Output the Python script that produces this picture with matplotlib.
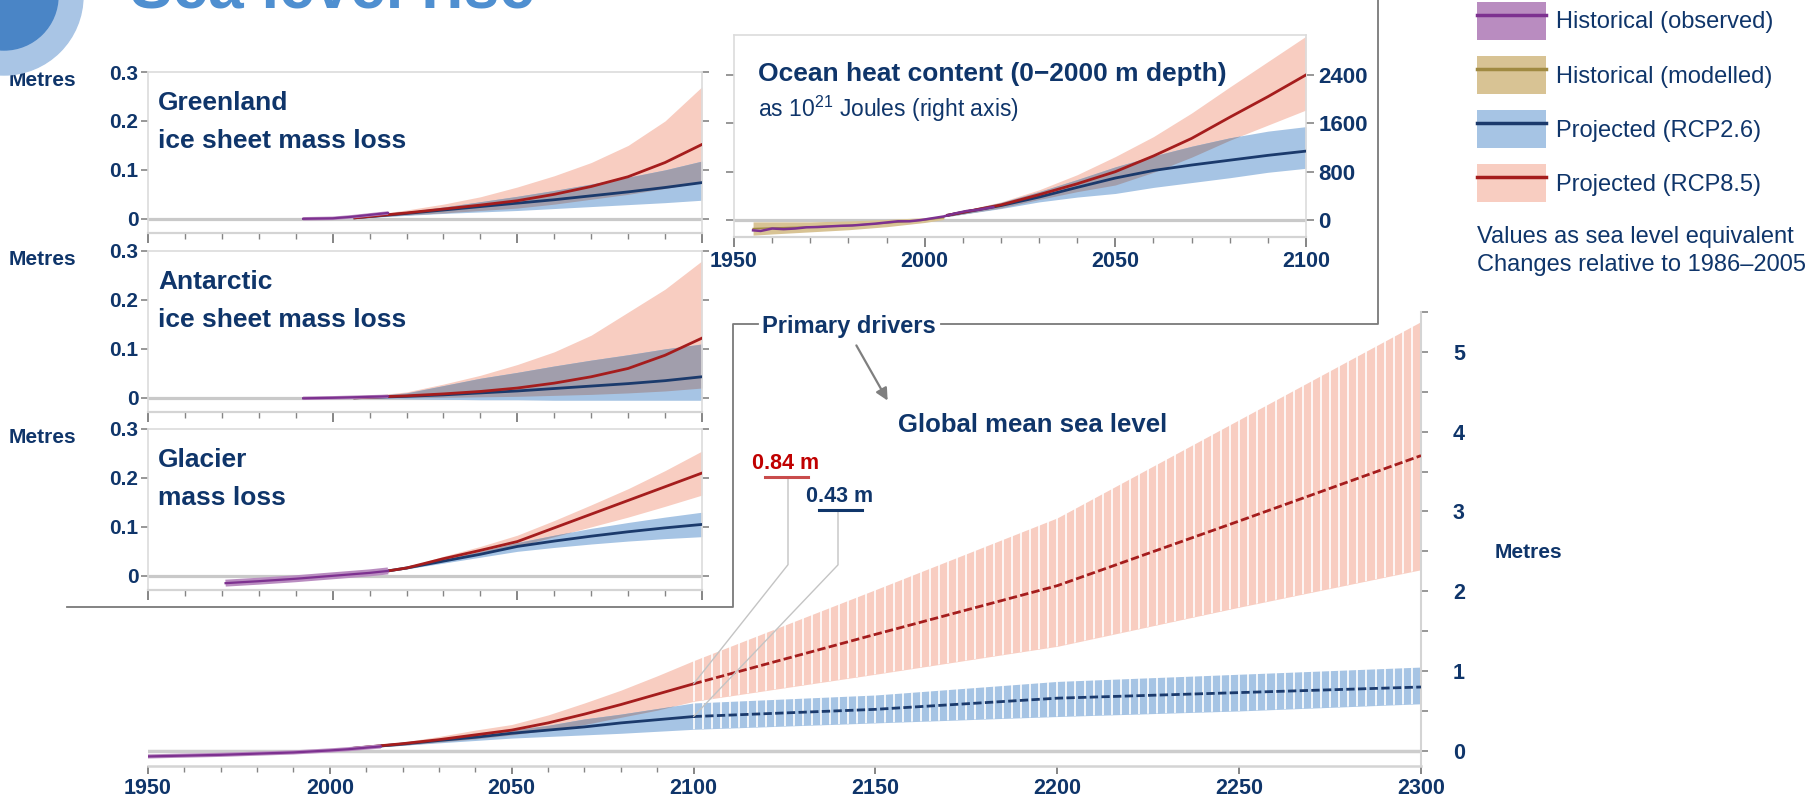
import numpy as np
import matplotlib
matplotlib.use("Agg")
import matplotlib.pyplot as plt
from matplotlib.patches import Patch, Circle
from matplotlib.lines import Line2D
from matplotlib.ticker import MultipleLocator, FixedLocator, FuncFormatter

plt.rcParams['font.family'] = ['Liberation Sans', 'DejaVu Sans']
plt.rcParams['font.weight'] = 'bold'
plt.rcParams['mathtext.default'] = 'regular'

W, H = 1810, 797

NAVY = '#0f356a'
RED_L = '#a51d1d'
RED_B = '#f8cdc1'
BLUE_L = '#1b3a6c'
BLUE_B = '#a6c4e4'
OVER = '#a19eac'
PURPLE = '#7d3190'
PURPLE_B = '#b98cc0'
TAN_L = '#a08a42'
TAN_B = '#d8c394'
LIGHT = '#d4d4d4'
TICK = '#858585'

# ---------------- data (metres sea level equivalent) ----------------
proj_years = [2006, 2020, 2030, 2040, 2050, 2060, 2070, 2080, 2090, 2100]

# Greenland ice sheet
grn_obs_years = [1992, 2000, 2005, 2010, 2015]
grn_obs = [0.0, 0.001, 0.004, 0.008, 0.012]
grn_85_mid = [0.002, 0.012, 0.02, 0.028, 0.037, 0.05, 0.066, 0.086, 0.115, 0.152]
grn_85_hi = [0.003, 0.018, 0.03, 0.045, 0.065, 0.088, 0.115, 0.15, 0.2, 0.27]
grn_85_lo = [0.001, 0.008, 0.012, 0.017, 0.022, 0.03, 0.04, 0.05, 0.062, 0.075]
grn_26_mid = [0.002, 0.011, 0.018, 0.025, 0.032, 0.039, 0.047, 0.055, 0.064, 0.074]
grn_26_hi = [0.003, 0.014, 0.024, 0.035, 0.046, 0.058, 0.071, 0.085, 0.1, 0.118]
grn_26_lo = [0.001, 0.007, 0.011, 0.014, 0.017, 0.021, 0.025, 0.029, 0.033, 0.038]

# Antarctic ice sheet
ant_obs_years = [1992, 2000, 2005, 2010, 2015]
ant_obs = [-0.001, 0.0, 0.001, 0.002, 0.003]
ant_85_mid = [0.0, 0.004, 0.008, 0.013, 0.02, 0.03, 0.043, 0.06, 0.087, 0.122]
ant_85_hi = [0.001, 0.012, 0.028, 0.046, 0.068, 0.094, 0.128, 0.175, 0.222, 0.28]
ant_85_lo = [0.0, 0.0, 0.001, 0.002, 0.003, 0.005, 0.007, 0.01, 0.014, 0.02]
ant_26_mid = [0.0, 0.003, 0.006, 0.01, 0.014, 0.019, 0.024, 0.029, 0.035, 0.043]
ant_26_hi = [0.001, 0.01, 0.025, 0.04, 0.052, 0.065, 0.077, 0.088, 0.1, 0.11]
ant_26_lo = [0.0, -0.002, -0.003, -0.004, -0.004, -0.005, -0.005, -0.005, -0.005, -0.005]

# Glaciers
gla_obs_years = [1971, 1980, 1990, 2000, 2010, 2015]
gla_obs = [-0.015, -0.011, -0.006, 0.0, 0.006, 0.01]
gla_years = [2015, 2020, 2030, 2040, 2050, 2060, 2070, 2080, 2090, 2100]
gla_85_mid = [0.01, 0.016, 0.035, 0.052, 0.07, 0.098, 0.126, 0.154, 0.182, 0.21]
gla_85_hi = [0.011, 0.018, 0.04, 0.06, 0.083, 0.113, 0.145, 0.178, 0.215, 0.255]
gla_85_lo = [0.009, 0.014, 0.03, 0.045, 0.06, 0.08, 0.1, 0.12, 0.142, 0.165]
gla_26_mid = [0.01, 0.016, 0.03, 0.044, 0.06, 0.071, 0.081, 0.09, 0.098, 0.105]
gla_26_hi = [0.011, 0.018, 0.034, 0.05, 0.068, 0.083, 0.097, 0.109, 0.12, 0.13]
gla_26_lo = [0.009, 0.014, 0.026, 0.038, 0.05, 0.058, 0.065, 0.071, 0.076, 0.08]

# Ocean heat content (10^21 J)
ohc_obs_years = [1955, 1957, 1960, 1963, 1966, 1969, 1972, 1975, 1978, 1981, 1984,
                 1987, 1990, 1993, 1996, 1999, 2002, 2005, 2008, 2011, 2014, 2018]
ohc_obs = [-170, -180, -140, -150, -140, -120, -115, -105, -95, -90, -75,
           -60, -40, -20, -20, 0, 30, 60, 110, 150, 170, 215]
ohc_mod_years = [1955, 1960, 1970, 1980, 1990, 2000, 2005]
ohc_mod_lo = [-250, -230, -195, -160, -110, -40, 10]
ohc_mod_hi = [-30, -30, -30, -15, 10, 40, 70]
ohc_85_mid = [80, 250, 420, 600, 800, 1060, 1350, 1700, 2040, 2400]
ohc_85_hi = [100, 300, 500, 750, 1050, 1380, 1770, 2200, 2620, 3040]
ohc_85_lo = [60, 200, 340, 470, 580, 790, 1040, 1320, 1570, 1820]
ohc_26_mid = [80, 240, 380, 540, 695, 820, 910, 990, 1070, 1140]
ohc_26_hi = [100, 290, 470, 670, 880, 1060, 1220, 1360, 1470, 1545]
ohc_26_lo = [60, 190, 300, 380, 440, 540, 620, 700, 790, 856]

# Global mean sea level
gmsl_obs_years = [1950, 1960, 1970, 1980, 1990, 2000, 2005, 2010, 2014]
gmsl_obs = [-0.07, -0.06, -0.05, -0.035, -0.02, 0.005, 0.02, 0.04, 0.055]
gmsl_years = [2006, 2020, 2030, 2040, 2050, 2060, 2070, 2080, 2090, 2100,
              2150, 2200, 2250, 2300]
gmsl_85_mid = [0.03, 0.09, 0.14, 0.2, 0.26, 0.35, 0.46, 0.58, 0.71, 0.84, 1.46, 2.07, 2.88, 3.7]
gmsl_85_hi = [0.035, 0.11, 0.18, 0.26, 0.33, 0.45, 0.6, 0.76, 0.94, 1.13, 2.02, 2.92, 4.15, 5.38]
gmsl_85_lo = [0.025, 0.07, 0.11, 0.15, 0.2, 0.26, 0.33, 0.42, 0.51, 0.62, 0.96, 1.31, 1.8, 2.27]
gmsl_26_mid = [0.03, 0.085, 0.13, 0.17, 0.22, 0.26, 0.3, 0.35, 0.39, 0.43, 0.52, 0.66, 0.73, 0.8]
gmsl_26_hi = [0.035, 0.1, 0.15, 0.2, 0.26, 0.32, 0.4, 0.46, 0.53, 0.6, 0.7, 0.87, 0.96, 1.05]
gmsl_26_lo = [0.025, 0.07, 0.1, 0.13, 0.16, 0.18, 0.2, 0.22, 0.245, 0.27, 0.35, 0.43, 0.5, 0.59]

legend_labels = ['Historical (observed)', 'Historical (modelled)',
                 'Projected (RCP2.6)', 'Projected (RCP8.5)']


def rect(l, t, r, b):
    return [l / W, 1 - b / H, (r - l) / W, (b - t) / H]


def bands(ax, x, lo85, hi85, lo26, hi26):
    x = np.asarray(x, float)
    lo85, hi85 = np.asarray(lo85), np.asarray(hi85)
    lo26, hi26 = np.asarray(lo26), np.asarray(hi26)
    p85 = ax.fill_between(x, lo85, hi85, color=RED_B, lw=0, zorder=2)
    p26 = ax.fill_between(x, lo26, hi26, color=BLUE_B, lw=0, zorder=2.1)
    # where both ranges overlap the colours mix to a grey-violet
    top = np.minimum(hi85, hi26)
    bot = np.maximum(lo85, lo26)
    ax.fill_between(x, bot, top, where=top > bot, interpolate=True,
                    color=OVER, lw=0, zorder=2.2)
    return p85, p26


def obs_line(ax, x, y, thick=3.5):
    ax.plot(x, y, color=PURPLE_B, lw=thick, solid_capstyle='butt', zorder=5)
    ax.plot(x, y, color=PURPLE, lw=1.6, zorder=5.1)


def small_panel(ax, xlo, xhi):
    ax.set_facecolor('none')
    ax.set_xlim(xlo, xhi)
    for s in ['top', 'right', 'left']:
        ax.spines[s].set_color('#dcdcdc')
        ax.spines[s].set_linewidth(1.2)
    ax.spines['bottom'].set_color(LIGHT)
    ax.spines['bottom'].set_linewidth(1.6)
    ax.axhline(0, color='#c9c9c9', lw=2.3, zorder=1)
    ax.xaxis.set_major_locator(MultipleLocator(50))
    ax.xaxis.set_minor_locator(MultipleLocator(10))
    ax.tick_params(axis='x', which='major', length=7, width=1.4, color=TICK)
    ax.tick_params(axis='x', which='minor', length=4.5, width=1.0, color=TICK)


fig = plt.figure(figsize=(W / 100, H / 100), dpi=100)

# ---------------- three small panels ----------------
panels = [
    (rect(148, 72, 702, 233), 'Greenland', 'ice sheet mass loss', grn_obs_years, grn_obs, 2.5,
     proj_years, grn_85_mid, grn_85_lo, grn_85_hi, grn_26_mid, grn_26_lo, grn_26_hi),
    (rect(148, 251, 702, 412), 'Antarctic', 'ice sheet mass loss', ant_obs_years, ant_obs, 2.5,
     proj_years, ant_85_mid, ant_85_lo, ant_85_hi, ant_26_mid, ant_26_lo, ant_26_hi),
    (rect(148, 429, 702, 590), 'Glacier', 'mass loss', gla_obs_years, gla_obs, 5,
     gla_years, gla_85_mid, gla_85_lo, gla_85_hi, gla_26_mid, gla_26_lo, gla_26_hi),
]
for (r, t1, t2, ox, oy, othick, px, m85, l85, h85, m26, l26, h26) in panels:
    ax = fig.add_axes(r)
    small_panel(ax, 1950, 2100)
    ax.set_ylim(-0.029, 0.3)
    bands(ax, px, l85, h85, l26, h26)
    ax.plot(px, m26, color=BLUE_L, lw=2, zorder=4)
    ax.plot(px, m85, color=RED_L, lw=2, zorder=4)
    obs_line(ax, ox, oy, othick)
    ax.yaxis.set_major_locator(FixedLocator([0, 0.1, 0.2, 0.3]))
    ax.yaxis.set_major_formatter(FuncFormatter(lambda v, _: '0' if abs(v) < 1e-9 else f'{v:.1f}'))
    ax.tick_params(axis='y', left=True, right=True, length=5, width=1.2, color=TICK,
                   labelsize=15, labelcolor=NAVY, pad=2)
    ax.tick_params(axis='x', labelbottom=False)
    ax.text(0.018, 1 - 38 / 161, t1, transform=ax.transAxes, fontsize=19, color=NAVY, va='baseline')
    ax.text(0.018, 1 - 76 / 161, t2, transform=ax.transAxes, fontsize=19, color=NAVY, va='baseline')
    ax.text(-0.251, 0.95, 'Metres', transform=ax.transAxes, fontsize=15, color=NAVY,
            va='center', ha='left')

# ---------------- ocean heat content ----------------
ax = fig.add_axes(rect(734, 35, 1306, 237))
small_panel(ax, 1950, 2100)
ax.set_ylim(-280, 3060)
ax.fill_between(ohc_mod_years, ohc_mod_lo, ohc_mod_hi, color=TAN_B, lw=0, zorder=1.5)
ax.plot(ohc_mod_years, (np.array(ohc_mod_lo) + np.array(ohc_mod_hi)) / 2, color=TAN_L, lw=1, zorder=1.6)
bands(ax, proj_years, ohc_85_lo, ohc_85_hi, ohc_26_lo, ohc_26_hi)
ax.plot(proj_years, ohc_26_mid, color=BLUE_L, lw=2, zorder=4)
ax.plot(proj_years, ohc_85_mid, color=RED_L, lw=2, zorder=4)
ax.plot(ohc_obs_years, ohc_obs, color=PURPLE, lw=1.8, zorder=5)
ax.yaxis.set_major_locator(FixedLocator([0, 800, 1600, 2400]))
ax.tick_params(axis='y', left=True, right=True, labelleft=False, labelright=True,
               length=6, width=1.2, color=TICK, labelsize=16, labelcolor=NAVY, pad=3)
ax.tick_params(axis='x', labelsize=15.5, labelcolor=NAVY, pad=3)
ax.text(0.042, 1 - 46 / 202, 'Ocean heat content (0\u22122000 m depth)', transform=ax.transAxes,
        fontsize=19, color=NAVY, va='baseline')
ax.text(0.042, 1 - 82 / 202, r'as 10$^{21}$ Joules (right axis)', transform=ax.transAxes,
        fontsize=16.5, color=NAVY, va='baseline', fontweight='normal')

# ---------------- global mean sea level ----------------
ax = fig.add_axes(rect(148, 312, 1421, 766))
ax.set_facecolor('none')
ax.set_xlim(1950, 2300)
ax.set_ylim(-0.19, 5.5)
yrs = np.array(gmsl_years, float)
p85, p26 = bands(ax, yrs, gmsl_85_lo, gmsl_85_hi, gmsl_26_lo, gmsl_26_hi)
# striped look of the post-2100 ranges, clipped to each band
stripe_x = np.arange(2100, 2300, 2.5)
for poly in (p85, p26):
    lc = ax.vlines(stripe_x, -0.19, 5.5, colors='white', lw=1.2, zorder=3.5)
    lc.set_clip_path(poly.get_paths()[0], ax.transData)
pre = yrs <= 2100
post = yrs >= 2100
for mid, col in [(gmsl_26_mid, BLUE_L), (gmsl_85_mid, RED_L)]:
    mid = np.asarray(mid)
    ax.plot(yrs[pre], mid[pre], color=col, lw=2, zorder=4)
    ax.plot(yrs[post], mid[post], color=col, lw=2, ls=(0, (3, 1.2)), zorder=4)
obs_line(ax, gmsl_obs_years, gmsl_obs, 3.0)
ax.axhline(0, color='#cdcdcd', lw=2.5, zorder=1)
for s in ['top', 'left']:
    ax.spines[s].set_visible(False)
ax.spines['right'].set_color(LIGHT)
ax.spines['right'].set_linewidth(1.5)
ax.spines['bottom'].set_color(LIGHT)
ax.spines['bottom'].set_linewidth(1.8)
ax.xaxis.set_major_locator(MultipleLocator(50))
ax.xaxis.set_minor_locator(FixedLocator(list(range(1960, 2100, 10))))
ax.yaxis.tick_right()
ax.yaxis.set_major_locator(MultipleLocator(1))
ax.yaxis.set_minor_locator(MultipleLocator(0.5))
ax.tick_params(axis='x', which='major', length=6, width=1.4, color=TICK,
               labelsize=15.5, labelcolor=NAVY, pad=3)
ax.tick_params(axis='x', which='minor', length=4, width=1.0, color=TICK)
ax.tick_params(axis='y', which='both', length=5, width=1.2, color=TICK,
               labelsize=15.5, labelcolor=NAVY, pad=18)
main = ax

# leader lines for the 2100 values
i2100 = gmsl_years.index(2100)
for val, bend_x, top_y, ang in [(gmsl_85_mid[i2100], 788, 477, 51.6),
                                (gmsl_26_mid[i2100], 838, 510, 46.4)]:
    main.annotate('', xy=(2100, val), xycoords='data', xytext=(bend_x, H - top_y),
                  textcoords='figure pixels',
                  arrowprops=dict(arrowstyle='-', color='#c4c4c4', lw=1.0, shrinkA=0, shrinkB=0,
                                  connectionstyle=f'angle,angleA=-90,angleB={ang},rad=0'),
                  zorder=6)

# ---------------- overlay: frame lines, notes, title ----------------
ov = fig.add_axes([0, 0, 1, 1])
ov.set_xlim(0, W)
ov.set_ylim(H, 0)
ov.axis('off')
ov.patch.set_alpha(0)

ov.add_patch(Circle((4, -4), 79, color='#a9c5e5', zorder=1))
ov.add_patch(Circle((4, -4), 54, color='#4a85c6', zorder=2))
ov.text(130, 7, 'Sea level rise', fontsize=46, color='#4f8fd0', va='baseline')

frame = '#7a7a7a'
ov.plot([67, 733, 733, 758], [607, 607, 324, 324], color=frame, lw=1.3)
ov.plot([941, 1378, 1378], [324, 324, 0], color=frame, lw=1.3)
ov.text(849, 333, 'Primary drivers', fontsize=17, color=NAVY, ha='center', va='baseline')
ov.annotate('', xy=(889, 403), xytext=(855, 343),
            arrowprops=dict(arrowstyle='-|>', color='#7f7f7f', lw=1.6, mutation_scale=18))
ov.text(898, 432, 'Global mean sea level', fontsize=18.5, color=NAVY, va='baseline')

ov.text(786, 469, f'{gmsl_85_mid[i2100]:.2f} m', fontsize=15.5, color='#c00000', ha='center', va='baseline')
ov.plot([765, 808], [477, 477], color='#c94c4c', lw=2.2)
ov.text(840, 502, f'{gmsl_26_mid[i2100]:.2f} m', fontsize=15.5, color=NAVY, ha='center', va='baseline')
ov.plot([819, 862], [510, 510], color=NAVY, lw=2.2)

ov.text(1528, 552, 'Metres', fontsize=15, color=NAVY, ha='center', va='center')
ov.text(1477, 237, 'Values as sea level equivalent', fontsize=17, color=NAVY,
        va='center', fontweight='normal')
ov.text(1477, 265, 'Changes relative to 1986\u20132005', fontsize=17, color=NAVY,
        va='center', fontweight='normal')

handles = [(Patch(facecolor=PURPLE_B, edgecolor='none'), Line2D([], [], color=PURPLE, lw=2.5)),
           (Patch(facecolor=TAN_B, edgecolor='none'), Line2D([], [], color=TAN_L, lw=2.5)),
           (Patch(facecolor=BLUE_B, edgecolor='none'), Line2D([], [], color=BLUE_L, lw=2.5)),
           (Patch(facecolor=RED_B, edgecolor='none'), Line2D([], [], color=RED_L, lw=2.5))]
fig.legend(handles, legend_labels, loc='upper left', bbox_to_anchor=(1477 / W, 1 - 2 / H),
           frameon=False, prop={'size': 17, 'weight': 'normal'}, labelcolor=NAVY,
           handlelength=2.92, handleheight=2.1, handletextpad=0.42, labelspacing=0.68,
           borderpad=0, borderaxespad=0)

fig.savefig('out.png', dpi=100)
